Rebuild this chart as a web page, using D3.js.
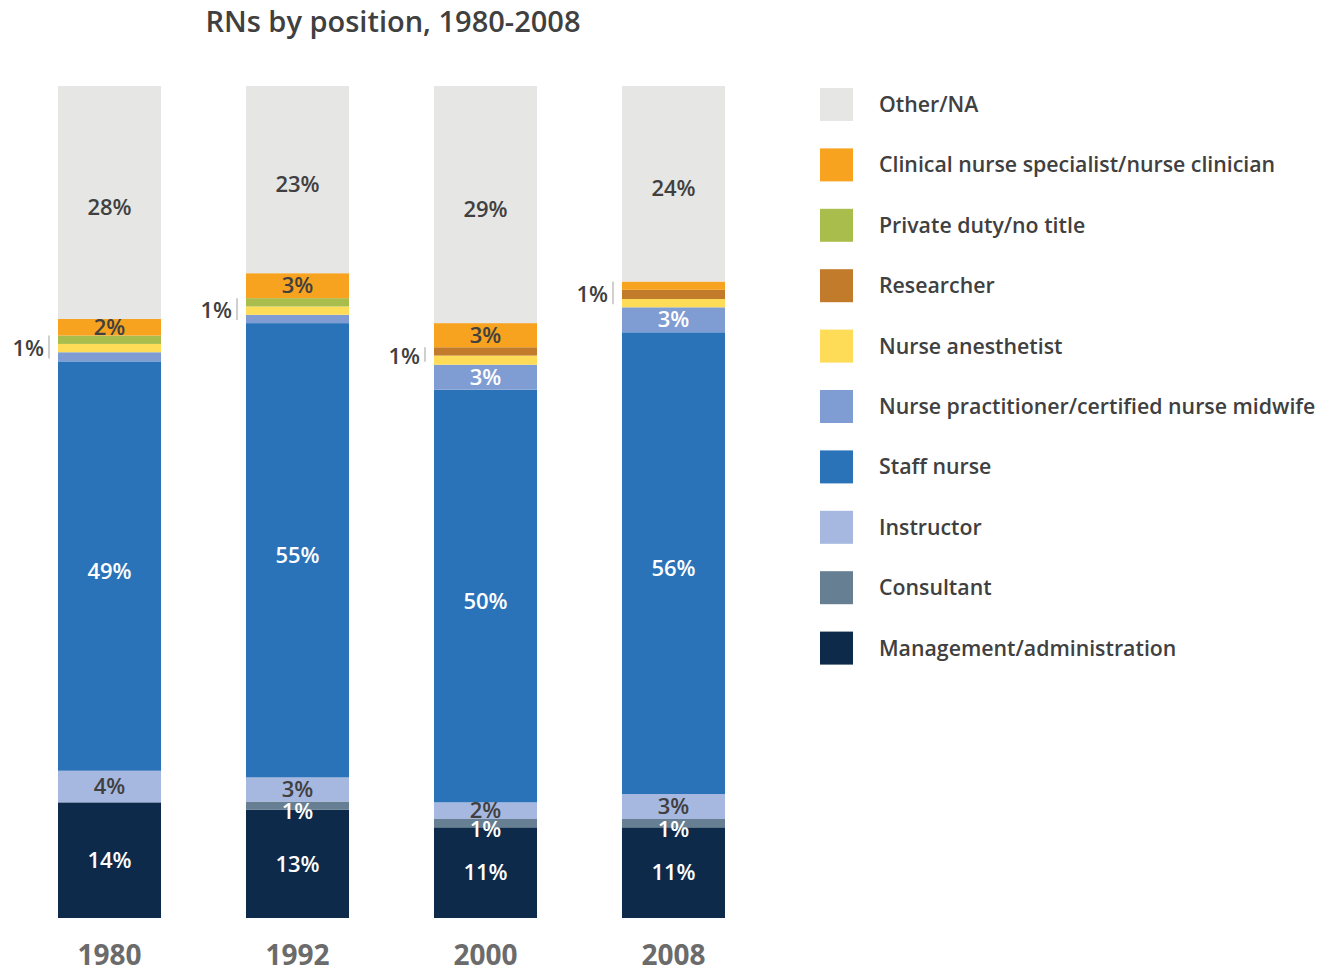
<html>
<head>
<meta charset="utf-8">
<script src="https://d3js.org/d3.v7.min.js"></script>
<style>
  body { margin: 0; background: #fff; }
  text { font-family: "Open Sans", "Noto Sans", sans-serif; }
</style>
</head>
<body>
<svg width="1327" height="972"></svg>
<script>
// --- data (percent of RNs) ---
var years = ["1980", "1992", "2000", "2008"];

// stack order, bottom to top
var positions = [
  "Management/administration",
  "Consultant",
  "Instructor",
  "Staff nurse",
  "Nurse practitioner/certified nurse midwife",
  "Nurse anesthetist",
  "Researcher",
  "Private duty/no title",
  "Clinical nurse specialist/nurse clinician",
  "Other/NA"
];

var management  = [13.9, 13.0, 10.9, 10.9];
var consultant  = [0,    1.0,  1.0,  1.0];
var instructor  = [3.8,  2.9,  2.0,  3.0];
var staffNurse  = [49.2, 54.6, 49.6, 55.5];
var practitioner = [1.1, 1.0,  3.0,  3.0];
var anesthetist = [1.0,  1.0,  1.1,  1.0];
var researcher  = [0,    0,    1.0,  1.1];
var privateDuty = [1.0,  1.0,  0,    0];
var clinical    = [2.0,  3.0,  2.9,  1.0];
var otherNA     = [28.0, 22.5, 28.5, 23.5];

var seriesValues = [management, consultant, instructor, staffNurse, practitioner,
                    anesthetist, researcher, privateDuty, clinical, otherNA];

var colors = ["#0e2a4a", "#667f92", "#a7b8e0", "#2a73b9", "#809dd3",
              "#ffdc57", "#c17b2a", "#a9bd4c", "#f8a31f", "#e6e6e4"];

// build table for d3.stack
var table = years.map(function (y, i) {
  var row = { year: y };
  positions.forEach(function (p, k) { row[p] = seriesValues[k][i]; });
  return row;
});

var svg = d3.select("svg");

var x = d3.scaleBand().domain(years).range([58, 725]).paddingInner(0.452).paddingOuter(0);
var y = d3.scaleLinear().domain([0, 100]).range([918, 86]);

var stacked = d3.stack().keys(positions)(table);

// bars
var layers = svg.append("g").selectAll("g")
  .data(stacked)
  .enter().append("g")
  .attr("fill", function (d, k) { return colors[k]; });

layers.selectAll("rect")
  .data(function (d) { return d; })
  .enter().append("rect")
  .attr("x", function (d) { return x(d.data.year); })
  .attr("width", x.bandwidth())
  .attr("y", function (d) { return y(d[1]); })
  .attr("height", function (d) { return y(d[0]) - y(d[1]); });

// labels inside segments
var darkText = { 2: true, 8: true, 9: true };
var labelG = svg.append("g")
  .style("font-size", "22px")
  .style("font-weight", "600")
  .attr("text-anchor", "middle");

stacked.forEach(function (layer, k) {
  layer.forEach(function (d) {
    var v = d[1] - d[0];
    if (v <= 0) return;
    var inside = v >= 1.5 || k == 1;
    if (!inside) return;
    var cy = (y(d[0]) + y(d[1])) / 2;
    if (k == 1) cy += 6; // consultant label sits a bit lower
    if (v > 20) cy += 5;
    labelG.append("text")
      .attr("x", x(d.data.year) + x.bandwidth() / 2)
      .attr("y", cy)
      .attr("dy", "0.35em")
      .attr("fill", darkText[k] ? "#404040" : "#ffffff")
      .text(Math.round(v) + "%");
  });
});

// small upper segments: bracket + "1%" to the left of the bar
years.forEach(function (yr, i) {
  var lo = null, hi = null, maxV = 0;
  for (var k = 4; k < stacked.length; k++) {
    var d = stacked[k][i];
    var v = d[1] - d[0];
    if (v > 0 && v < 1.5) {
      if (lo === null) lo = d[0];
      hi = d[1];
      maxV = Math.max(maxV, v);
    }
  }
  if (lo === null) return;
  var lx = x(yr) - 9;
  svg.append("line")
    .attr("x1", lx).attr("x2", lx)
    .attr("y1", y(hi)).attr("y2", y(lo) - 3)
    .attr("stroke", "#b0b0b0")
    .attr("stroke-width", 1.2);
  svg.append("text")
    .attr("x", lx - 5)
    .attr("y", (y(hi) + y(lo)) / 2)
    .attr("dy", "0.35em")
    .attr("text-anchor", "end")
    .style("font-size", "22px")
    .style("font-weight", "600")
    .attr("fill", "#404040")
    .text(Math.round(maxV) + "%");
});

// year axis
var xAxis = svg.append("g")
  .attr("transform", "translate(0,941)")
  .call(d3.axisBottom(x).tickSize(0).tickPadding(4));
xAxis.select(".domain").remove();
xAxis.selectAll("text")
  .attr("dy", "0.71em")
  .style("font-family", "'Open Sans', sans-serif")
  .style("font-size", "28px")
  .style("font-weight", "bold")
  .attr("fill", "#6b6b6b");

// title
svg.append("text")
  .attr("x", 393)
  .attr("y", 32)
  .attr("text-anchor", "middle")
  .style("font-size", "29px")
  .style("font-weight", "600")
  .attr("fill", "#404040")
  .text("RNs by position, 1980-2008");

// legend (top-down = reverse of stack)
var legendItems = positions.map(function (p, k) { return { name: p, color: colors[k] }; }).reverse();
var legend = svg.append("g").attr("transform", "translate(820,88)");
var rows = legend.selectAll("g")
  .data(legendItems)
  .enter().append("g")
  .attr("transform", function (d, i) { return "translate(0," + (i * 60.4) + ")"; });
rows.append("rect")
  .attr("width", 33).attr("height", 33)
  .attr("fill", function (d) { return d.color; });
rows.append("text")
  .attr("x", 59)
  .attr("y", 16.5)
  .attr("dy", "0.35em")
  .style("font-size", "21.3px")
  .style("font-weight", "600")
  .attr("fill", "#404040")
  .text(function (d) { return d.name; });
</script>
</body>
</html>
